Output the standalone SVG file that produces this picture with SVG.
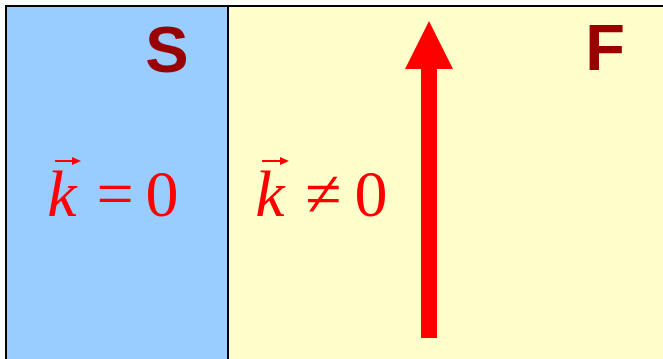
<svg xmlns="http://www.w3.org/2000/svg" width="663" height="359" viewBox="0 0 663 359">
<style>
.lbl{font-family:"Liberation Sans",Arial,sans-serif;font-weight:bold;font-size:65px;fill:#990000}
.m{font-family:"Liberation Serif","Times New Roman",serif;font-size:66px;fill:#FF0000;text-anchor:middle}
.it{font-style:italic}
.vec{stroke:#FF0000;stroke-width:2;fill:none}
</style>
<rect width="663" height="359" fill="#FFFFFF"/>
<g id="region-S">
<rect x="6" y="6" width="222" height="360" fill="#99CCFF" stroke="#000000" stroke-width="2"/>
<text class="lbl" x="167" y="72" text-anchor="middle">S</text>
<text class="m it" x="62" y="216">k</text>
<line class="vec" x1="55" y1="161" x2="78" y2="161"/>
<polygon points="81,161 72,157 72,165" fill="#FF0000"/>
<text class="m" x="115" y="216">=</text>
<text class="m" x="162" y="216">0</text>
</g>
<g id="region-F">
<rect x="228" y="6" width="440" height="360" fill="#FFFFCC" stroke="#000000" stroke-width="2"/>
<text class="lbl" x="605" y="70" text-anchor="middle">F</text>
<text class="m it" x="270" y="216">k</text>
<line class="vec" x1="262" y1="161" x2="286" y2="161"/>
<polygon points="289,161 280,157 280,165" fill="#FF0000"/>
<text class="m" x="323" y="216">≠</text>
<text class="m" x="371" y="216">0</text>
</g>
<g id="connectors">
<rect x="421" y="67" width="16" height="271" fill="#FF0000"/>
<polygon points="405,69 453,69 429,21" fill="#FF0000"/>
</g>
</svg>
